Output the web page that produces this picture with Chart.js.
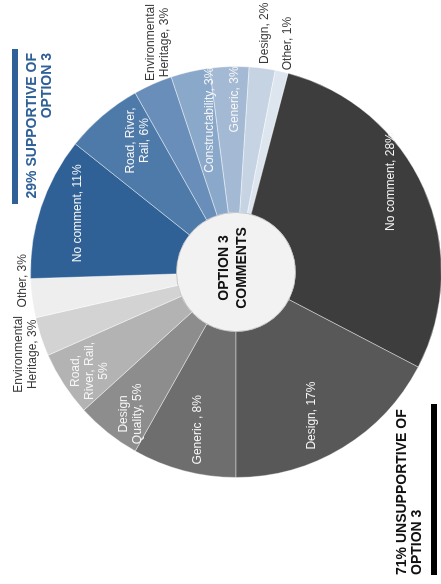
<!DOCTYPE html>
<html>
<head>
<meta charset="utf-8">
<script src="https://cdn.jsdelivr.net/npm/chart.js@4.4.1/dist/chart.umd.min.js"></script>
<style>
  html, body { margin: 0; padding: 0; background: #fff; width: 441px; height: 584px; overflow: hidden; }
  /* chart is drawn landscape, then turned a quarter to the left */
  #wrap { position: absolute; left: 0; top: 0; width: 584px; height: 444px;
          transform-origin: 0 0; transform: translate(0, 584px) rotate(-90deg); }
  canvas { display: block; }
</style>
</head>
<body>
<div id="wrap"><canvas id="comments-chart" width="584" height="444"></canvas></div>
<script>
// 数据
const categories = ['Generic ', 'Design\nQuality', 'Road,\nRiver, Rail,', 'Environmental\nHeritage', 'Other',
  'No comment', 'Road, River,\nRail', 'Environmental\nHeritage', 'Constructability', 'Generic', 'Design', 'Other',
  'No comment', 'Design'];
const values = [8, 5, 5, 3, 3, 11, 6, 3, 3, 3, 2, 1, 28, 17];
const centerLines = ['OPTION 3', 'COMMENTS'];
const supportLines = ['29% SUPPORTIVE OF', 'OPTION 3'];
const unsupportLines = ['71% UNSUPPORTIVE OF', 'OPTION 3'];

// 样式
const colors = ['#6e6e6e', '#8d8d8d', '#b3b3b3', '#d3d3d3', '#eeeeee',
  '#2f6196', '#4e7aaa', '#698eb9', '#8aa8ca', '#a4bad4', '#c5d3e3', '#dde5ef',
  '#3d3d3d', '#585858'];
const labelDist = [0.79, 0.86, 0.86, 1.10, 1.04, 0.82, 0.80, 1.18, 0.75, 0.84, 1.17, 1.14, 0.87, 0.79];
const labelNudge = [-1, -2, -1, -3, 5, 2, 3.5, 5, 3, 1.5, -0.5, 0, -6.5, 3.4];
const FONT = '"Liberation Sans", Arial, sans-serif';

function labelText(i) {
  const cat = categories[i];
  return cat + (cat.endsWith(',') ? '\n' : ', ') + values[i] + '%';
}

const labelPlugin = {
  id: 'sliceLabels',
  afterDatasetsDraw(chart) {
    const c = chart.ctx;
    const arcs = chart.getDatasetMeta(0).data;
    const { x: cx, y: cy, innerRadius } = arcs[0].getProps(['x', 'y', 'innerRadius'], true);
    c.save();
    // 中心圆
    c.beginPath();
    c.arc(cx, cy, innerRadius, 0, Math.PI * 2);
    c.fillStyle = '#f2f2f2';
    c.fill();
    c.lineWidth = 1;
    c.strokeStyle = 'rgba(0,0,0,0.18)';
    c.stroke();
    c.fillStyle = '#111';
    c.font = 'bold 14px ' + FONT;
    c.textAlign = 'center';
    c.textBaseline = 'middle';
    centerLines.forEach((t, i) => c.fillText(t, cx + 4, cy - 12 + i * 18));

    // 扇区标签
    c.font = '12px ' + FONT;
    arcs.forEach((arc, i) => {
      const p = arc.getProps(['startAngle', 'endAngle', 'outerRadius'], true);
      const a = (p.startAngle + p.endAngle) / 2 + labelNudge[i] * Math.PI / 180;
      const r = p.outerRadius * labelDist[i];
      const lx = cx + Math.cos(a) * r;
      const ly = cy + Math.sin(a) * r;
      const lines = labelText(i).split('\n');
      c.fillStyle = labelDist[i] > 1 ? '#3a3a3a' : '#f6f6f6';
      lines.forEach((t, j) => c.fillText(t, lx, ly + (j - (lines.length - 1) / 2) * 14));
    });
    c.restore();
  },
  afterDraw(chart) {
    const c = chart.ctx;
    c.save();
    c.font = 'bold 14px ' + FONT;
    c.textBaseline = 'middle';
    // 支持
    c.fillStyle = '#2f6097';
    c.fillRect(380, 12, 155, 6);
    c.textAlign = 'right';
    supportLines.forEach((t, i) => c.fillText(t, 531, 32 + i * 15));
    // 不支持
    c.fillStyle = '#000';
    c.fillRect(9, 431, 171, 6);
    c.fillStyle = '#111';
    c.textAlign = 'left';
    unsupportLines.forEach((t, i) => c.fillText(t, 9, 402 + i * 15));
    c.restore();
  }
};

const ctx = document.getElementById('comments-chart').getContext('2d');
new Chart(ctx, {
  type: 'doughnut',
  data: {
    labels: categories,
    datasets: [{
      data: values,
      backgroundColor: colors,
      borderColor: 'rgba(255, 255, 255, 0.4)',
      borderWidth: 1,
      hoverOffset: 0
    }]
  },
  options: {
    responsive: false,
    animation: false,
    events: [],
    rotation: -90,
    cutout: '29%',
    layout: { padding: { left: 106, right: 66, top: 30, bottom: 2 } },
    plugins: { legend: { display: false }, tooltip: { enabled: false } }
  },
  plugins: [labelPlugin]
});
</script>
</body>
</html>
